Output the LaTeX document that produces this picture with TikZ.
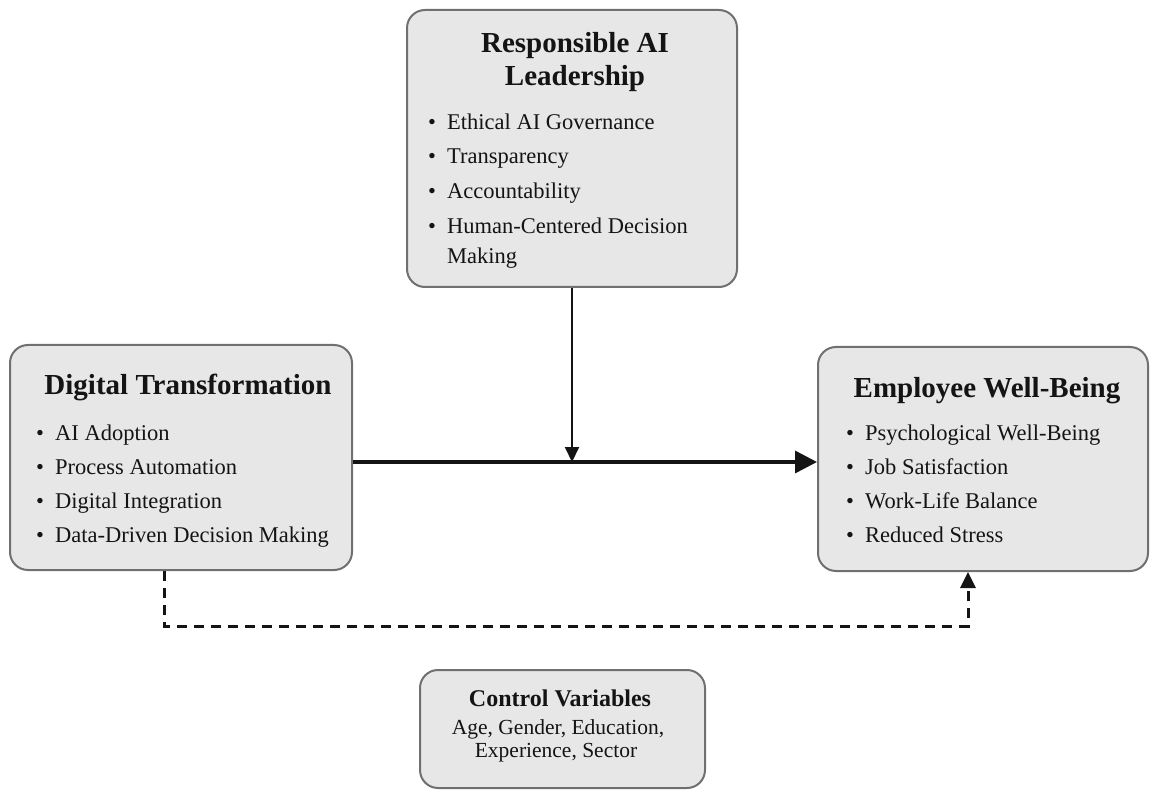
\documentclass[tikz,border=0pt]{standalone}
\usepackage{fontspec}
\setmainfont{Liberation Serif}
\usetikzlibrary{arrows.meta}
\definecolor{boxfill}{HTML}{E7E7E7}
\definecolor{boxline}{HTML}{707070}
\definecolor{ink}{HTML}{141414}
\tikzset{
  panel/.style={draw=boxline, fill=boxfill, line width=2pt, rounded corners=18pt, inner sep=0pt},
  headline/.style={font=\fontsize{29}{33}\selectfont\bfseries, text=ink, anchor=base, inner sep=0pt},
  entry/.style={font=\fontsize{22.5}{27}\selectfont, text=ink, anchor=base west, inner sep=0pt},
  plain/.style={font=\fontsize{21.5}{25}\selectfont, text=ink, anchor=base, inner sep=0pt},
  mainlink/.style={draw=ink, line width=3.5pt, -{Triangle[length=22pt,width=22pt]}},
  modlink/.style={draw=ink, line width=2pt, -{Triangle[length=15pt,width=14pt]}},
  dashlink/.style={draw=ink, line width=3pt, dash pattern=on 10pt off 7pt, -{Triangle[length=16pt,width=15pt]}}
}
\newcommand{\bul}{\makebox[19pt][l]{•}}
\begin{document}
\begin{tikzpicture}[x=1pt,y=-1pt]
  \fill[white] (0,0) rectangle (1151,791);
  \useasboundingbox (0,0) rectangle (1151,791);

  % boxes
  \node[panel, minimum width=330pt, minimum height=277pt] (lead) at (572,148.5) {};
  \node[panel, minimum width=342pt, minimum height=225pt] (digi) at (181,457.5) {};
  \node[panel, minimum width=330pt, minimum height=224pt] (well) at (983,459) {};
  \node[panel, minimum width=285pt, minimum height=118pt] (ctrl) at (562.5,729) {};

  % Responsible AI Leadership
  \node[headline] (leadT1) at (575,53) {Responsible AI};
  \node[headline] (leadT2) at (575,86) {Leadership};
  \node[entry] (lead1) at (428,130) {\bul Ethical AI Governance};
  \node[entry] (lead2) at (428,164) {\bul Transparency};
  \node[entry] (lead3) at (428,199) {\bul Accountability};
  \node[entry] (lead4) at (428,234) {\bul Human-Centered Decision};
  \node[entry] (lead5) at (428,264) {\hspace*{19pt}Making};

  % Digital Transformation
  \node[headline] (digiT) at (188,395) {Digital Transformation};
  \node[entry] (digi1) at (36,440) {\bul AI Adoption};
  \node[entry] (digi2) at (36,474) {\bul Process Automation};
  \node[entry] (digi3) at (36,508) {\bul Digital Integration};
  \node[entry] (digi4) at (36,542) {\bul Data-Driven Decision Making};

  % Employee Well-Being
  \node[headline] (wellT) at (987,397) {Employee Well-Being};
  \node[entry] (well1) at (846,440) {\bul Psychological Well-Being};
  \node[entry] (well2) at (846,474) {\bul Job Satisfaction};
  \node[entry] (well3) at (846,508) {\bul Work-Life Balance};
  \node[entry] (well4) at (846,542) {\bul Reduced Stress};

  % Control Variables
  \node[headline, font=\fontsize{24}{28}\selectfont\bfseries] (ctrlT) at (560,706) {Control Variables};
  \node[plain] (ctrl1) at (558,734) {Age, Gender, Education,};
  \node[plain] (ctrl2) at (556,757) {Experience, Sector};

  % connectors
  \coordinate (meet) at (572,462);
  \coordinate (dl) at (164,626);
  \coordinate (dr) at (968,626);
  \draw[mainlink] (digi.east |- meet) -- (well.west |- meet);
  \draw[modlink] (lead.south) -- (meet);
  \draw[dashlink] (digi.south -| dl) -- (dl) -- (dr) -- (well.south -| dr);
\end{tikzpicture}
\end{document}
